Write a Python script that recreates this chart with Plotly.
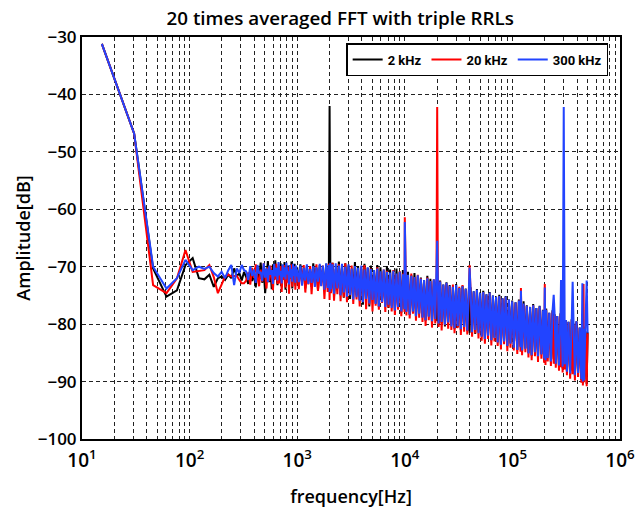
import plotly.graph_objects as go

# ---------------- data ----------------
series_names = ["2 kHz", "20 kHz", "300 kHz"]

freq_low = [15.3, 30.5, 45.8, 61.0, 76.3, 91.6, 106.8, 122.1, 137.3, 152.6,
            167.8, 183.1, 198.4, 213.6, 228.9, 244.1, 259.4, 274.7, 289.9, 305.2,
            320.4,
            335.7, 350.9, 366.2, 381.5, 396.7, 411.9, 427.2, 442.4, 457.8, 473.0,
            488.3, 503.5, 518.8, 534.1, 549.3, 564.6, 579.8, 595.1, 610.4, 625.6,
            640.9, 656.1, 671.4, 686.6, 701.9, 717.2, 732.4, 747.7, 762.9, 778.2,
            793.5, 808.7, 824.0, 839.2, 854.5, 869.8, 885.0, 900.3, 915.5, 930.8,
            946.0, 961.3, 976.6, 991.8]

freq_high = [1000, 1035, 1070, 1110, 1150, 1190, 1230, 1270, 1320, 1360,
             1410, 1460, 1510, 1560, 1620, 1670, 1730, 1790, 1860, 1920,
             1970, 2000, 2030, 2060, 2130, 2200, 2280, 2360, 2440, 2530,
             2610, 2710, 2800, 2900, 3000, 3100, 3210, 3320, 3440, 3560,
             3680, 3810, 3940, 4080, 4220, 4370, 4520, 4680, 4840, 5010,
             5180, 5360, 5550, 5740, 5940, 6150, 6370, 6590, 6820, 7050,
             7300, 7550, 7820, 8090, 8370, 8660, 8970, 9280, 9600, 9940,
             10000, 10350, 10700, 11100, 11500, 11900, 12300, 12700, 13200, 13600,
             14100, 14600, 15100, 15600, 16200, 16700, 17300, 17900, 18600, 19200,
             19700, 20000, 20300, 20600, 21300, 22000, 22800, 23600, 24400, 25300,
             26100, 27100, 28000, 29000, 30000, 31000, 32100, 33200, 34400, 35600,
             36800, 38100, 39400, 40000, 40800, 42200, 43700, 45200, 46800, 48400,
             50100, 51800, 53600, 55500, 57400, 59400, 61500, 63700, 65900, 68200,
             70500, 73000, 75500, 78200, 80900, 83700, 86600, 89700, 92800, 96000,
             99400, 103000, 107000, 111000, 115000, 119000, 120000, 123000, 127000, 132000,
             136000, 141000, 146000, 151000, 156000, 162000, 167000, 173000, 179000, 186000,
             192000, 197000, 200000, 203000, 206000, 213000, 220000, 228000, 236000, 242000,
             247000, 253000, 261000, 271000, 280000, 283000, 286000, 293000, 300000, 307000,
             314000, 321000, 332000, 344000, 356000, 363000, 370000, 381000, 394000, 408000,
             422000, 437000, 447000, 452000, 458000, 464000, 476000, 490000, 500000]

black_low = [-31.2, -46.8, -70.3, -75.2, -74.1, -69.7, -68.5, -72.0, -72.2, -71.4,
             -73.5, -72.0, -71.7, -72.3, -71.4, -72.0, -70.3, -71.7, -71.1, -72.4,
             -70.9,
             -71.8, -73.0, -70.6, -72.5, -71.2, -73.6, -70.2, -72.1, -69.3, -72.8,
             -70.5, -74.6, -71.0, -69.0, -72.7, -70.4, -73.9, -69.6, -72.3, -68.9,
             -71.5, -73.2, -70.0, -72.6, -69.4, -73.5, -70.8, -71.9, -69.2, -74.0,
             -70.6, -72.2, -69.8, -73.1, -70.3, -71.6, -69.1, -73.8, -70.9, -72.0,
             -69.5, -73.3, -70.2, -72.7]

black_high = [-70.1, -73.2, -69.6, -72.4, -70.5, -73.8, -69.9, -72.1, -70.8, -73.5,
              -69.4, -72.8, -70.3, -74.1, -69.7, -72.5, -70.6, -73.6, -69.5, -72.9,
              -70.2, -42.0, -69.8, -74.3, -69.3, -75.1, -70.4, -73.8, -69.1, -74.9,
              -70.0, -75.4, -69.4, -73.9, -69.8, -75.6, -70.5, -74.4, -69.2, -75.0,
              -69.9, -75.8, -70.4, -76.6, -69.5, -75.1, -70.2, -76.9, -69.8, -75.5,
              -70.6, -76.4, -69.7, -77.0, -70.1, -75.9, -70.8, -76.7, -69.9, -77.2,
              -70.5, -76.8, -71.0, -77.6, -70.3, -77.1, -70.9, -78.0, -70.6, -77.4,
              -71.2, -77.7, -70.9, -78.4, -71.5, -77.9, -71.1, -78.6, -71.7, -78.1,
              -71.9, -78.8, -72.3, -79.4, -71.6, -78.6, -72.1, -79.7, -72.4, -79.1,
              -72.6, -79.5, -72.9, -80.2, -72.4, -79.8, -73.1, -80.4, -72.7, -79.6,
              -73.2, -80.1, -73.5, -80.8, -73.0, -80.5, -73.7, -81.0, -73.3, -80.4,
              -73.8, -81.2, -74.1, -81.5, -73.6, -80.9, -74.3, -81.7, -73.9, -81.3,
              -74.5, -82.1, -74.2, -82.6, -74.8, -81.9, -74.4, -82.8, -75.0, -82.3,
              -75.2, -83.1, -74.9, -83.6, -75.5, -82.9, -75.1, -83.9, -75.7, -83.3,
              -75.9, -84.0, -76.2, -84.5, -75.7, -83.9, -76.4, -84.7, -76.0, -84.2,
              -76.7, -85.0, -77.0, -85.5, -76.5, -84.9, -77.2, -85.8, -76.8, -85.2,
              -77.5, -85.9, -77.8, -86.4, -77.3, -85.8, -78.0, -86.6, -77.6, -86.1,
              -78.3, -86.9, -78.6, -87.4, -78.1, -86.8, -78.9, -87.7, -78.4, -87.1,
              -79.3, -88.2, -79.6, -88.8, -79.1, -88.1, -79.9, -89.0, -79.5, -88.5,
              -80.6, -89.7, -80.9, -90.3, -80.4, -89.6, -81.2, -90.4, -81.4]

red_low = [-31.2, -46.8, -73.2, -74.6, -72.0, -67.1, -70.9, -70.7, -70.6, -69.7,
           -71.8, -74.6, -73.0, -71.7, -71.4, -71.7, -71.6, -71.6, -72.3, -72.9,
           -72.9,
           -72.4, -71.0, -73.1, -70.2, -72.0, -69.6, -71.8, -73.4, -70.5, -72.6,
           -69.4, -71.3, -73.8, -70.1, -72.5, -69.8, -71.7, -74.1, -70.6, -72.2,
           -69.5, -73.0, -70.8, -72.9, -69.9, -74.4, -71.1, -72.3, -69.7, -73.6,
           -70.4, -72.8, -70.0, -74.7, -71.2, -72.1, -69.6, -73.5, -70.3, -72.4,
           -69.9, -74.0, -70.7, -72.6]

red_high = [-71.0, -73.9, -70.2, -72.6, -69.7, -74.5, -70.6, -73.1, -69.9, -74.8,
            -70.4, -72.9, -69.6, -74.2, -70.9, -73.3, -69.8, -75.6, -70.3, -74.4,
            -69.5, -75.8, -70.0, -74.6, -69.3, -75.9, -70.5, -74.8, -69.6, -76.0,
            -70.1, -75.3, -69.4, -76.2, -70.7, -75.0, -69.8, -76.5, -70.2, -75.7,
            -70.6, -76.9, -70.0, -76.1, -69.7, -77.4, -70.9, -76.6, -70.3, -77.8,
            -70.8, -76.8, -70.1, -77.5, -71.0, -76.3, -70.5, -77.9, -70.7, -77.1,
            -71.1, -77.8, -70.6, -78.4, -71.3, -77.5, -70.8, -78.6, -71.2, -77.9,
            -61.4, -78.5, -71.5, -79.0, -71.2, -78.2, -71.8, -79.4, -71.4, -78.9,
            -72.0, -79.6, -72.5, -80.3, -71.9, -79.3, -72.6, -80.6, -72.2, -79.9,
            -72.8, -42.2, -73.0, -80.5, -72.6, -81.1, -73.3, -80.2, -72.9, -80.8,
            -73.4, -81.0, -73.1, -81.6, -73.8, -80.7, -73.5, -81.9, -73.2, -81.3,
            -74.0, -81.8, -74.2, -69.7, -73.9, -82.2, -74.5, -81.6, -74.1, -82.5,
            -74.7, -82.9, -74.4, -83.4, -75.0, -82.6, -74.6, -83.7, -75.2, -83.0,
            -75.4, -83.8, -75.1, -84.4, -75.6, -83.5, -75.3, -84.7, -75.9, -84.1,
            -76.1, -84.6, -76.3, -85.2, -75.9, -84.8, -73.7, -85.4, -76.5, -84.9,
            -76.9, -85.8, -77.1, -86.3, -76.7, -85.6, -77.4, -86.6, -77.0, -86.0,
            -77.7, -86.7, -73.0, -87.1, -77.5, -86.5, -78.1, -87.3, -77.8, -86.9,
            -78.5, -87.6, -78.7, -88.1, -78.3, -87.5, -79.0, -88.4, -78.6, -87.9,
            -79.4, -88.9, -79.7, -89.5, -79.3, -88.7, -80.0, -89.8, -79.6, -89.2,
            -80.7, -90.2, -81.0, -90.7, -73.0, -90.1, -81.3, -90.8, -81.6]

blue_low = [-31.2, -46.8, -70.0, -73.8, -72.0, -68.8, -70.6, -70.0, -70.4, -70.0,
            -71.1, -71.7, -70.9, -72.0, -70.6, -69.7, -73.2, -70.3, -71.1, -69.7,
            -70.6,
            -70.8, -72.3, -69.9, -71.6, -70.5, -72.8, -69.7, -71.2, -70.9, -72.5,
            -69.4, -71.9, -70.3, -72.7, -69.8, -71.4, -70.6, -73.0, -69.5, -71.7,
            -70.2, -72.4, -69.2, -71.5, -70.7, -72.9, -69.6, -71.8, -70.1, -72.2,
            -69.3, -71.3, -70.8, -73.1, -69.7, -71.9, -70.4, -72.6, -69.5, -71.6,
            -70.0, -72.8, -69.8, -71.7]

blue_high = [-70.5, -72.7, -69.8, -73.3, -70.2, -72.4, -69.6, -73.0, -70.4, -72.8,
             -69.9, -73.5, -70.1, -72.6, -69.5, -73.4, -69.8, -74.0, -69.4, -73.7,
             -69.7, -74.4, -69.3, -73.9, -69.6, -74.7, -69.4, -73.8, -69.8, -75.0,
             -69.5, -74.5, -70.0, -75.2, -69.6, -74.9, -70.3, -75.7, -69.9, -75.3,
             -70.2, -75.9, -69.8, -76.2, -70.5, -75.6, -70.1, -76.4, -70.4, -75.8,
             -70.6, -76.5, -70.3, -76.9, -70.8, -76.2, -70.5, -77.0, -70.9, -76.6,
             -71.0, -77.2, -70.7, -77.6, -71.2, -77.0, -70.9, -77.8, -71.3, -77.4,
             -62.2, -77.9, -71.4, -78.3, -71.6, -77.8, -71.8, -78.6, -71.5, -78.2,
             -72.1, -78.9, -72.3, -79.3, -72.0, -78.7, -72.5, -79.5, -72.2, -79.1,
             -72.7, -65.5, -72.9, -79.9, -72.6, -79.6, -73.1, -80.1, -72.8, -79.7,
             -73.3, -80.4, -73.5, -80.7, -73.2, -80.3, -73.7, -80.9, -73.4, -80.5,
             -73.9, -81.1, -74.1, -70.2, -73.8, -81.4, -74.3, -81.0, -74.0, -81.6,
             -74.6, -82.2, -74.4, -82.6, -74.8, -82.0, -74.5, -82.8, -75.0, -82.4,
             -75.3, -83.2, -75.1, -83.6, -75.5, -83.0, -75.2, -83.8, -75.7, -83.4,
             -76.0, -84.1, -76.2, -84.5, -75.9, -84.0, -74.2, -84.6, -76.4, -84.3,
             -76.8, -85.1, -77.0, -85.4, -76.7, -84.9, -77.2, -85.6, -76.9, -85.3,
             -77.6, -86.0, -73.6, -86.3, -77.5, -85.9, -78.0, -86.5, -77.7, -74.9,
             -78.4, -86.9, -78.6, -87.2, -78.3, -72.3, -78.8, -87.4, -42.2, -87.0,
             -79.3, -88.3, -79.6, -88.6, -79.2, -72.6, -79.8, -88.9, -79.5, -88.5,
             -80.6, -89.6, -72.9, -90.0, -80.8, -89.8, -81.2, -72.4, -81.5]

x_tick_vals = [10, 20, 30, 40, 50, 60, 70, 80, 90,
               100, 200, 300, 400, 500, 600, 700, 800, 900,
               1000, 2000, 3000, 4000, 5000, 6000, 7000, 8000, 9000,
               10000, 20000, 30000, 40000, 50000, 60000, 70000, 80000, 90000,
               100000, 200000, 300000, 400000, 500000, 600000, 700000, 800000, 900000,
               1000000]
x_tick_text = ["10<sup>1</sup>", "", "", "", "", "", "", "", "",
               "10<sup>2</sup>", "", "", "", "", "", "", "", "",
               "10<sup>3</sup>", "", "", "", "", "", "", "", "",
               "10<sup>4</sup>", "", "", "", "", "", "", "", "",
               "10<sup>5</sup>", "", "", "", "", "", "", "", "",
               "10<sup>6</sup>"]
y_tick_vals = [-100, -90, -80, -70, -60, -50, -40, -30]

# ---------------- figure ----------------
freq = freq_low + freq_high
series = [
    (series_names[0], "#000000", black_low + black_high),
    (series_names[1], "#ff0000", red_low + red_high),
    (series_names[2], "#2244ff", blue_low + blue_high),
]

fig = go.Figure()
for name, color, vals in series:
    fig.add_trace(go.Scatter(x=freq, y=vals, mode="lines", name=name,
                             line=dict(color=color, width=2)))

font_family = "Open Sans"
grid = dict(showgrid=True, gridcolor="#222222", griddash="4px,3px", gridwidth=1,
            showline=True, linecolor="black", linewidth=2, mirror=True,
            ticks="", zeroline=False, automargin=False)

fig.update_layout(
    width=636, height=513,
    margin=dict(l=82, r=16, t=37, b=74),
    paper_bgcolor="white", plot_bgcolor="white",
    font=dict(family=font_family, size=17, color="black"),
    title=dict(text="20 times averaged FFT with triple RRLs",
               x=0.535, xanchor="center", y=0.965, yanchor="middle",
               font=dict(size=18.8, weight=600)),
    legend=dict(orientation="h", x=0.978, xanchor="right",
                y=0.985, yanchor="top", bordercolor="black", borderwidth=1.5,
                bgcolor="white", font=dict(family="Roboto", size=13, weight=700),
                itemwidth=30, tracegroupgap=0),
    xaxis=dict(type="log", range=[1, 6], tickvals=x_tick_vals, ticktext=x_tick_text,
               tickfont=dict(size=19, weight=600), ticklabeloverflow="allow",
               ticklabelstandoff=3,
               title=dict(text="frequency[Hz]", font=dict(size=18, weight=600), standoff=19),
               **grid),
    yaxis=dict(range=[-100, -30], tickvals=y_tick_vals,
               tickfont=dict(size=17, weight=600),
               title=dict(text="Amplitude[dB]", font=dict(size=18, weight=600), standoff=2),
               **grid),
)

fig.write_html("out.html", config={"displayModeBar": False},
               post_script="document.body.style.margin='0px';")
